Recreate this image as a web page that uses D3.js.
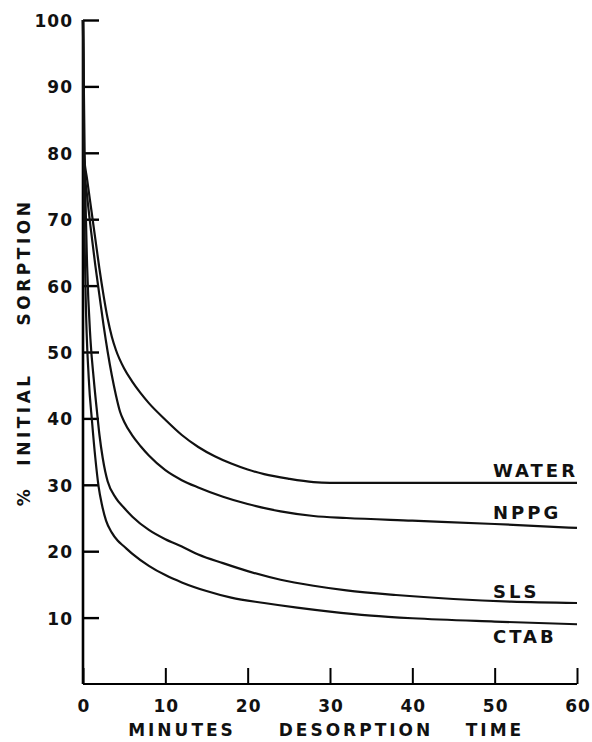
<!DOCTYPE html>
<html>
<head>
<meta charset="utf-8">
<script src="https://cdn.jsdelivr.net/npm/d3@7"></script>
<style>
	body { margin: 0; background: #fff; }
	text { font-family: "DejaVu Sans", sans-serif; fill: #111; }
</style>
</head>
<body>
<div id="chart"></div>
<script>

// desorption time (minutes) and % initial sorption for each solution
var waterT = [0, 0.1, 0.5, 1, 1.5, 2, 2.5, 3, 3.5, 4, 5, 6, 7, 8, 10, 12, 14, 16, 18, 20, 22, 25, 28, 30, 40, 50, 60];
var waterV = [100, 80, 76, 71.5, 67, 62.5, 58.5, 55, 52.3, 50.3, 47.5, 45.5, 43.8, 42.3, 39.8, 37.5, 35.7, 34.3, 33.2, 32.3, 31.6, 30.9, 30.4, 30.3, 30.3, 30.3, 30.3];

var nppgT = [0, 0.1, 0.5, 1, 1.5, 2, 2.5, 3, 3.5, 4, 4.5, 5, 6, 7, 8, 10, 12, 14, 17, 20, 24, 28, 32, 40, 50, 60];
var nppgV = [100, 79, 73.5, 68, 63, 58.5, 54, 50, 46.5, 43.5, 41, 39.5, 37.4, 35.8, 34.4, 32.2, 30.7, 29.6, 28.2, 27.1, 26, 25.3, 25, 24.6, 24.1, 23.5];

var slsT = [0, 0.2, 0.5, 0.9, 1.3, 1.7, 2, 2.4, 2.7, 3, 4, 5, 6, 8, 10, 12, 14, 17, 20, 24, 28, 32, 38, 45, 52, 60];
var slsV = [100, 80, 63, 52, 46, 41, 37.5, 34, 32, 30.5, 28, 26.5, 25.2, 23.2, 21.8, 20.7, 19.5, 18.2, 17, 15.7, 14.8, 14.1, 13.4, 12.8, 12.4, 12.2];

var ctabT = [0, 0.1, 0.3, 0.7, 1.1, 1.5, 1.9, 2.3, 2.8, 3.5, 4.2, 5, 6, 8, 10, 12, 15, 18, 22, 26, 30, 35, 40, 50, 60];
var ctabV = [100, 78, 60, 46, 39.5, 34, 29.7, 27, 24.6, 22.8, 21.6, 20.7, 19.6, 17.8, 16.4, 15.3, 14, 13, 12.2, 11.5, 10.9, 10.3, 9.9, 9.4, 9.0];

var xTicks = [0, 10, 20, 30, 40, 50, 60];
var yTicks = [10, 20, 30, 40, 50, 60, 70, 80, 90, 100];

var xTitleWords = ["MINUTES", "DESORPTION", "TIME"];
var yTitleWords = ["SORPTION", "INITIAL", "%"];


Curves = function(_parentElement) {

	this.parentElement = _parentElement;
	this.data = [
		{name: "WATER", t: waterT, v: waterV, dy: -6},
		{name: "NPPG", t: nppgT, v: nppgV, dy: -9},
		{name: "SLS", t: slsT, v: slsV, dy: -5},
		{name: "CTAB", t: ctabT, v: ctabV, dy: 19}
	];

	this.initVis();
}


Curves.prototype.initVis = function() {
	var vis = this;

	vis.margin = {top: 20, right: 15, bottom: 58, left: 83};

	vis.width = 592 - vis.margin.left - vis.margin.right;
	vis.height = 742 - vis.margin.top - vis.margin.bottom;

	vis.svg = d3.select('#' + vis.parentElement).append("svg")
		.attr("width", vis.width + vis.margin.left + vis.margin.right)
		.attr("height", vis.height + vis.margin.top + vis.margin.bottom)
		.append("g")
		.attr("transform", "translate(" + vis.margin.left + "," + vis.margin.top + ")");

	vis.x = d3.scaleLinear().domain([0, 60]).range([0, vis.width]);
	vis.y = d3.scaleLinear().domain([0, 100]).range([vis.height, 0]);

	// AXES //
	vis.xAxis = d3.axisTop(vis.x).tickValues(xTicks).tickSize(16).tickFormat("");
	vis.yAxis = d3.axisRight(vis.y).tickValues(yTicks).tickSize(16).tickFormat("");

	vis.svg.append("g")
		.attr("transform", "translate(0," + vis.height + ")")
		.call(vis.xAxis)
		.call(function(g) {
			g.select(".domain").attr("d", "M0,0H" + vis.width).attr("stroke-width", 2.2);
			g.selectAll(".tick line").attr("stroke-width", 2);
		});

	vis.svg.append("g")
		.call(vis.yAxis)
		.call(function(g) {
			g.select(".domain").attr("d", "M0," + vis.height + "V0").attr("stroke-width", 2.6);
			g.selectAll(".tick line").attr("stroke-width", 2.4);
		});

	// tick labels
	vis.svg.selectAll(".xlab")
		.data(xTicks)
		.enter().append("text")
		.attr("class", "xlab")
		.attr("x", function(d) { return vis.x(d) + 1; })
		.attr("y", vis.height + 28)
		.attr("text-anchor", "middle")
		.attr("font-size", 17)
		.attr("font-weight", "bold")
		.attr("letter-spacing", 1)
		.text(function(d) { return d; });

	vis.svg.selectAll(".ylab")
		.data(yTicks)
		.enter().append("text")
		.attr("class", "ylab")
		.attr("x", -10)
		.attr("y", function(d) { return vis.y(d) + 7; })
		.attr("text-anchor", "end")
		.attr("font-size", 17)
		.attr("font-weight", "bold")
		.attr("letter-spacing", 1)
		.text(function(d) { return d; });

	// axis titles, one word at a time
	var xWordPos = [182, 356, 495];
	vis.svg.selectAll(".xtitle")
		.data(xTitleWords)
		.enter().append("text")
		.attr("class", "xtitle")
		.attr("x", function(d, i) { return xWordPos[i] - vis.margin.left; })
		.attr("y", vis.height + 52)
		.attr("text-anchor", "middle")
		.attr("font-size", 17)
		.attr("font-weight", "bold")
		.attr("letter-spacing", 3)
		.text(function(d) { return d; });

	var yWordPos = [262, 419, 496];
	vis.svg.selectAll(".ytitle")
		.data(yTitleWords)
		.enter().append("text")
		.attr("class", "ytitle")
		.attr("transform", function(d, i) {
			return "translate(" + (30 - vis.margin.left) + "," + (yWordPos[i] - vis.margin.top) + ") rotate(-90)";
		})
		.attr("text-anchor", "middle")
		.attr("font-size", 17)
		.attr("font-weight", "bold")
		.attr("letter-spacing", 3.5)
		.text(function(d) { return d; });

	vis.updateVis();
}


Curves.prototype.updateVis = function() {
	var vis = this;

	var line = d3.line()
		.x(function(d) { return vis.x(d[0]); })
		.y(function(d) { return vis.y(d[1]); })
		.curve(d3.curveMonotoneX);

	vis.svg.selectAll(".curve")
		.data(vis.data)
		.enter().append("path")
		.attr("class", "curve")
		.attr("fill", "none")
		.attr("stroke", "#111")
		.attr("stroke-width", 2.2)
		.attr("d", function(d) {
			return line(d.t.map(function(t, i) { return [t, d.v[i]]; }));
		});

	// series labels sit just above (or below, for CTAB) the curve's end
	vis.svg.selectAll(".name")
		.data(vis.data)
		.enter().append("text")
		.attr("class", "name")
		.attr("x", 493 - vis.margin.left)
		.attr("y", function(d) { return vis.y(d.v[d.v.length - 1]) + d.dy; })
		.attr("font-size", 18)
		.attr("font-weight", "bold")
		.attr("letter-spacing", 3)
		.text(function(d) { return d.name; });
}

new Curves("chart");

</script>
</body>
</html>
